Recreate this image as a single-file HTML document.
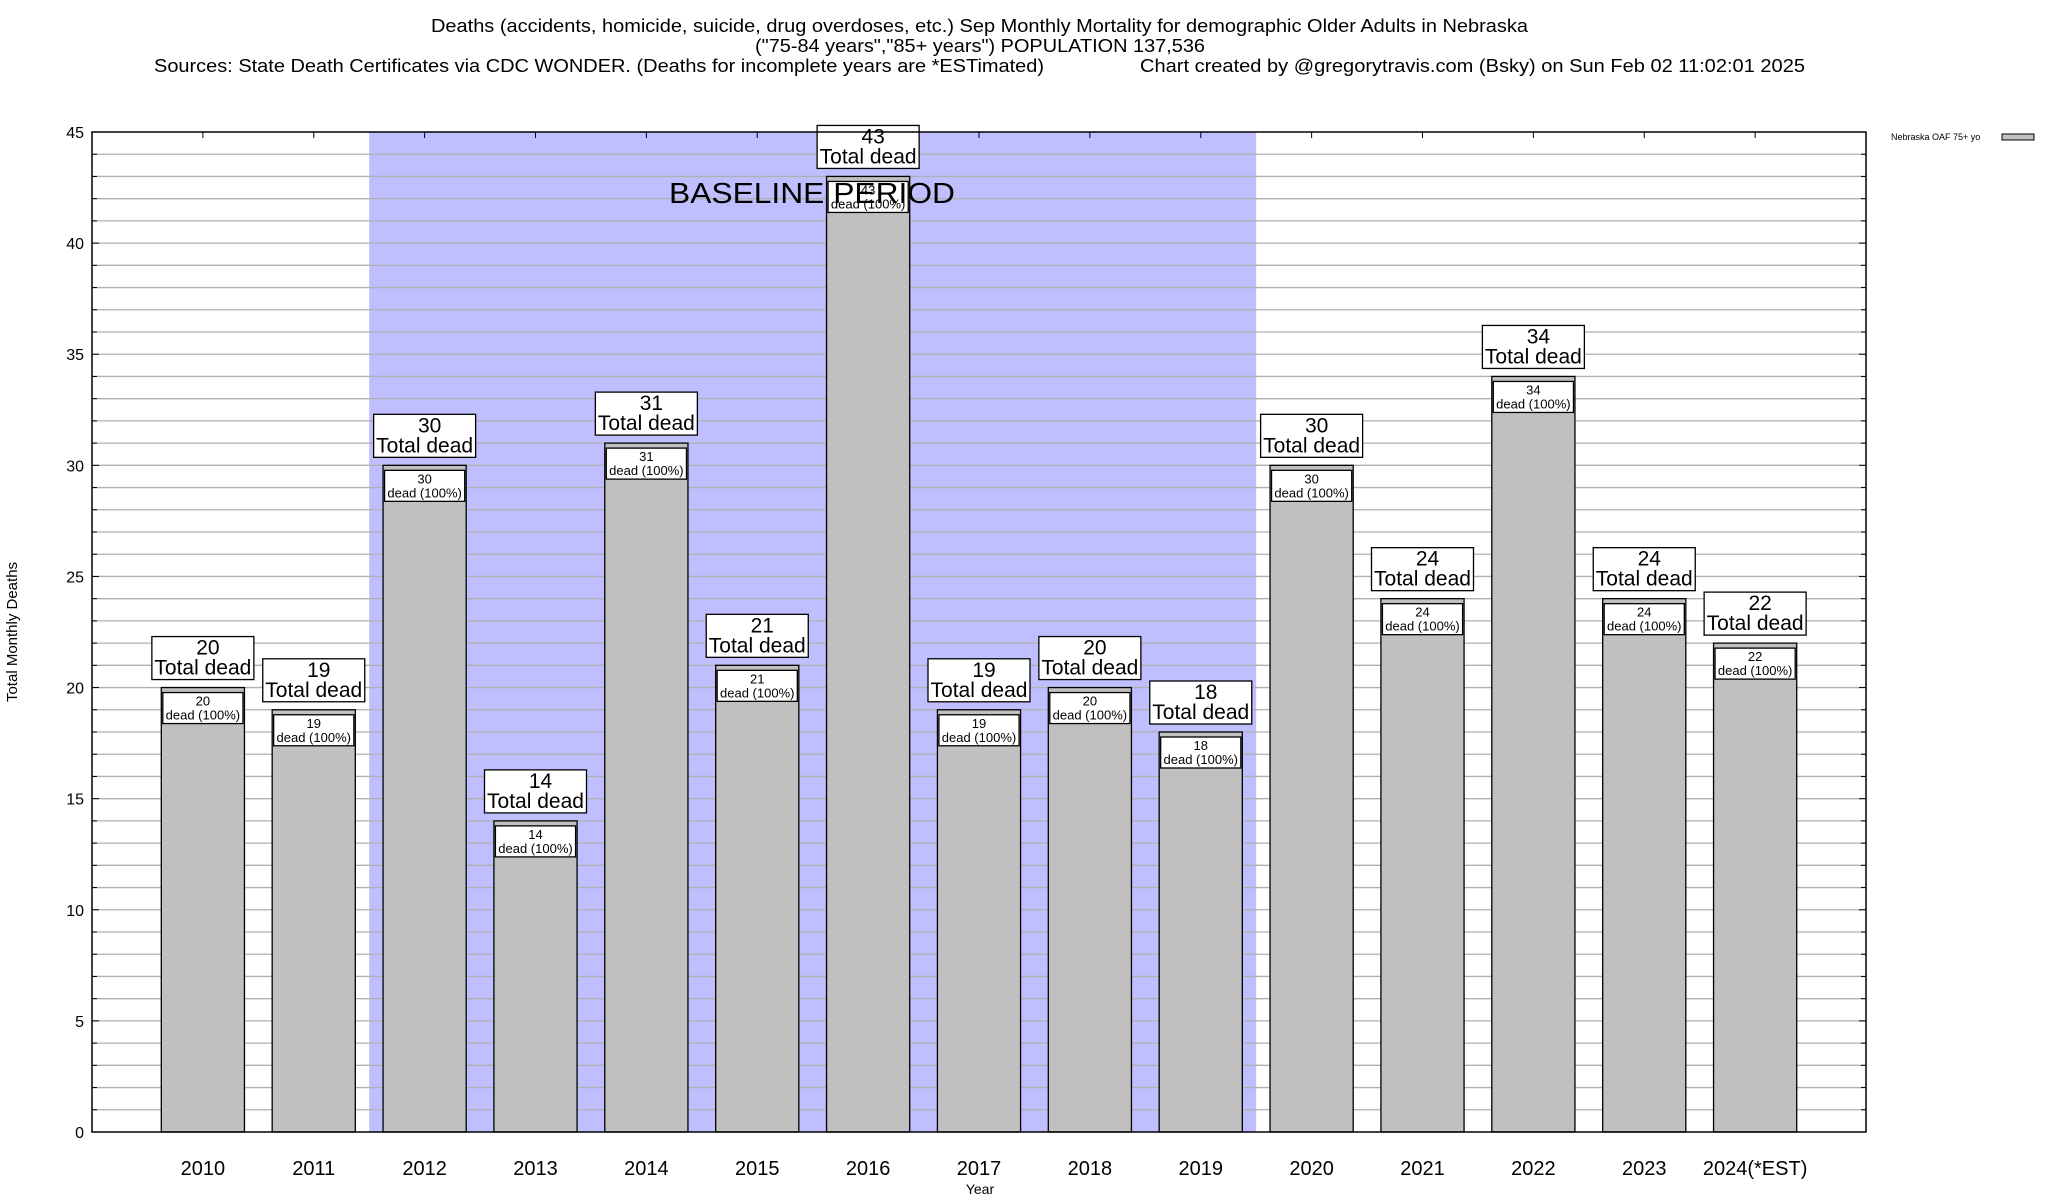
<!DOCTYPE html>
<html><head><meta charset="utf-8"><style>
html,body{margin:0;padding:0;background:#fff;}
svg{display:block;font-family:"Liberation Sans",sans-serif;}
</style></head><body>
<svg id="chart" width="2048" height="1200" viewBox="0 0 2048 1200">
<g id="title" font-size="18" fill="#000">
<text x="431" y="32" textLength="1097" lengthAdjust="spacingAndGlyphs">Deaths (accidents, homicide, suicide, drug overdoses, etc.) Sep Monthly Mortality for demographic Older Adults in Nebraska</text>
<text x="755" y="52" textLength="450" lengthAdjust="spacingAndGlyphs">("75-84 years","85+ years") POPULATION 137,536</text>
<text x="154" y="72" textLength="890" lengthAdjust="spacingAndGlyphs">Sources: State Death Certificates via CDC WONDER. (Deaths for incomplete years are *ESTimated)</text>
<text x="1140" y="72" textLength="665" lengthAdjust="spacingAndGlyphs">Chart created by @gregorytravis.com (Bsky) on Sun Feb 02 11:02:01 2025</text>
</g>
<g id="plot"></g>
<text x="17" y="632" font-size="15" text-anchor="middle" transform="rotate(-90 17 632)">Total Monthly Deaths</text>
<text x="980" y="1194" font-size="14" text-anchor="middle">Year</text>
<g>
<text x="1891" y="140" font-size="9">Nebraska OAF 75+ yo</text>
<rect x="2002" y="134" width="32" height="6" fill="#c0c0c0" stroke="#000" stroke-width="1"/>
</g>
</svg>
<script>
const categories = ["2010","2011","2012","2013","2014","2015","2016","2017","2018","2019","2020","2021","2022","2023","2024(*EST)"];
const values = [20,19,30,14,31,21,43,19,20,18,30,24,34,24,22];
const yTicks = [0,5,10,15,20,25,30,35,40,45];
const baselineStart = 1.5, baselineEnd = 9.5;

const L=92,R=1866,T=132,B=1132,YMAX=45;
const NS='http://www.w3.org/2000/svg';
const plot=document.getElementById('plot');
function X(i){return L+(i+1)*(R-L)/(categories.length+1);}
function Y(v){return B-v*(B-T)/YMAX;}
const unit=(R-L)/(categories.length+1);
function el(tag,attrs,parent){const e=document.createElementNS(NS,tag);for(const k in attrs)e.setAttribute(k,attrs[k]);(parent||plot).appendChild(e);return e;}

const band=el('rect',{x:X(baselineStart),y:T,width:X(baselineEnd)-X(baselineStart),height:B-T,fill:'#bfbfff'});


for(let v=1;v<YMAX;v++){
  const g=el('line',{x1:L,x2:R,y1:Y(v),y2:Y(v),stroke:'#b0b0b0','stroke-width':1.3});
  
  
  el('line',{x1:L,x2:L+(v%5===0?7:5),y1:Y(v),y2:Y(v),stroke:'#000'});
  el('line',{x1:R,x2:R-(v%5===0?7:5),y1:Y(v),y2:Y(v),stroke:'#000'});
}
yTicks.forEach(v=>{
  const t=el('text',{x:84,y:Y(v)+6,'font-size':16,'text-anchor':'end'});
  t.textContent=v;
  
  
});
const bw=unit*0.75;
categories.forEach((c,i)=>{
  const cx=X(i),v=values[i];
  el('line',{x1:cx,x2:cx,y1:T,y2:T+6,stroke:'#000'});
  el('line',{x1:cx,x2:cx,y1:B,y2:B-6,stroke:'#000'});
  const b=el('rect',{x:cx-bw/2,y:Y(v),width:bw,height:B-Y(v),fill:'#c0c0c0',stroke:'#000','stroke-width':1.3});
  
  
  const t=el('text',{x:cx,y:1175,'font-size':20,'text-anchor':'middle'});
  t.textContent=c;
  
  
});
categories.forEach((c,i)=>{
  const cx=X(i),v=values[i],top=Y(v);
  const ib=el('rect',{x:cx-bw/2+1.5,y:top+5,width:bw-3,height:31,fill:'#fff',stroke:'#000','stroke-width':1.3});
  
  
  const a=el('text',{x:cx,y:top+18,'font-size':13,'text-anchor':'middle'});a.textContent=v;
  const d=el('text',{x:cx,y:top+32,'font-size':13,'text-anchor':'middle'});d.textContent='dead (100%)';
  const ob=el('rect',{x:cx-51,y:top-51,width:102,height:43,fill:'#fff',stroke:'#000','stroke-width':1.3});
  
  
  const n=el('text',{x:cx+5,y:top-33,'font-size':21,'text-anchor':'middle'});n.textContent=v;
  const td=el('text',{x:cx,y:top-13,'font-size':21,'text-anchor':'middle'});td.textContent='Total dead';
});
const fr=el('rect',{x:L,y:T,width:R-L,height:B-T,fill:'none',stroke:'#000','stroke-width':1.5});


const bt=el('text',{x:669,y:203,'font-size':29,textLength:286,lengthAdjust:'spacingAndGlyphs'});
bt.textContent='BASELINE PERIOD';


</script>
</body></html>
